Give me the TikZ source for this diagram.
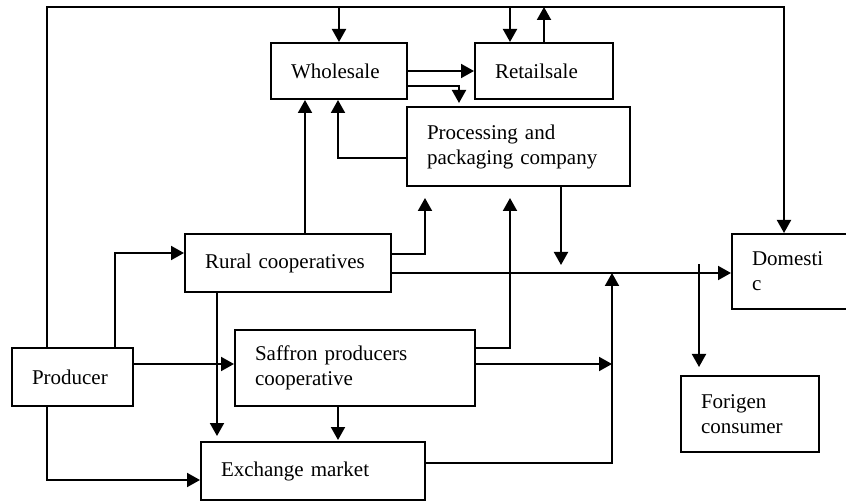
\documentclass[tikz,border=0pt]{standalone}
\usepackage{fontspec}
\setmainfont{Liberation Serif}
\usepackage{tikz}
\usetikzlibrary{calc,arrows.meta}
\tikzset{
  box/.style={draw, line width=2pt, align=left, inner xsep=20pt, inner ysep=0pt,
    text width=#1, font=\fontsize{21}{25}\selectfont},
  link/.style={draw, line width=2pt, line cap=rect},
  arr/.style={link, -{Triangle[length=13pt,width=14pt]}},
}

\begin{document}
\begin{tikzpicture}[x=1pt,y=-1pt]
  \useasboundingbox (0,0) rectangle (846,502);
  \node[box=96pt, minimum height=56pt] (whole) at (339,71) {Wholesale};
  \node[box=98pt, minimum height=56pt] (retail) at (544,71) {Retailsale};
  \node[box=183pt, minimum height=79pt] (proc) at (518.5,146.5) {Processing and\\packaging company};
  \node[box=166pt, minimum height=58pt] (rural) at (288,263) {Rural cooperatives};
  \node[box=80pt, minimum height=75pt] (dom) at (792,271.5) {Domesti\\c};
  \node[box=200pt, minimum height=76pt] (saff) at (355,368) {Saffron producers\\cooperative};
  \node[box=81pt, minimum height=58pt] (prod) at (72.5,377) {Producer};
  \node[box=98pt, minimum height=76pt] (forg) at (750,414) {Forigen\\consumer};
  \node[box=184pt, minimum height=58pt] (exch) at (313,471) {Exchange market};

  % bends
  \coordinate (tl) at (47,7);
  \coordinate (tr) at (784,7);
  \coordinate (rt) at (510,7);
  \coordinate (wp) at (459,86);
  \coordinate (pw) at (338,158);
  \coordinate (rw) at (305,234);
  \coordinate (rp) at (425,254);
  \coordinate (sp) at (510,348);
  \coordinate (pd) at (561,265);
  \coordinate (mid) at (0,273);
  \coordinate (em) at (612,463);
  \coordinate (sm) at (612,364);
  \coordinate (df) at (699,265);
  \coordinate (pr) at (115,253);
  \coordinate (re) at (217,292);
  \coordinate (pe) at (47,480);

  \draw[link] (prod.north -| tl) -- (tl) -- (tr);
  \draw[arr] (tr) -- (tr |- dom.north);
  \draw[arr] (whole.north |- tl) -- (whole.north);
  \draw[arr] (rt) -- (rt |- retail.north);
  \draw[arr] (retail.north) -- (retail.north |- tl);
  \draw[arr] (whole.east) -- (retail.west);
  \draw[arr, shorten >=3pt] (whole.east |- wp) -- (wp) -- (wp |- proc.north);
  \draw[arr] (proc.west |- pw) -- (pw) -- (pw |- whole.south);
  \draw[arr] (rural.north -| rw) -- (rw |- whole.south);
  \draw[arr, shorten >=11pt] (rural.east |- rp) -- (rp) -- (rp |- proc.south);
  \draw[arr, shorten >=11pt] (saff.east |- sp) -- (sp) -- (sp |- proc.south);
  \draw[arr] (pd |- proc.south) -- (pd);
  \draw[arr] (rural.east |- mid) -- (dom.west |- mid);
  \draw[arr] (exch.east |- em) -- (em) -- (em |- mid);
  \draw[arr] (saff.east |- sm) -- (sm);
  \draw[arr, shorten >=8pt] (df) -- (df |- forg.north);
  \draw[arr] (prod.north -| pr) -- (pr) -- (pr -| rural.west);
  \draw[arr] (prod.east |- sm) -- (saff.west |- sm);
  \draw[arr, shorten >=5pt] (re) -- (re |- exch.north);
  \draw[arr, shorten >=1pt] (saff.south -| pw) -- (pw |- exch.north);
  \draw[arr] (prod.south -| pe) -- (pe) -- (pe -| exch.west);
\end{tikzpicture}
\end{document}
